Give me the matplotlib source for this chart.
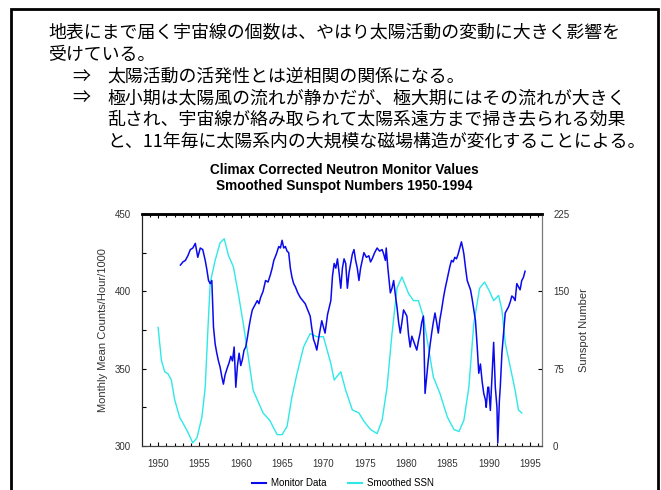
import matplotlib
matplotlib.use("Agg")
import matplotlib.pyplot as plt
from matplotlib.lines import Line2D

# slide text
text_lines = [
    "地表にまで届く宇宙線の個数は、やはり太陽活動の変動に大きく影響を",
    "受けている。",
]
arrow_lines = [
    ["太陽活動の活発性とは逆相関の関係になる。"],
    ["極小期は太陽風の流れが静かだが、極大期にはその流れが大きく",
     "乱され、宇宙線が絡み取られて太陽系遠方まで掃き去られる効果",
     "と、11年毎に太陽系内の大規模な磁場構造が変化することによる。"],
]

title = "Climax Corrected Neutron Monitor Values\nSmoothed Sunspot Numbers 1950-1994"
year_ticks = [1950, 1955, 1960, 1965, 1970, 1975, 1980, 1985, 1990, 1995]
count_ticks = [300, 350, 400, 450]
ssn_ticks = [0, 75, 150, 225]

# smoothed sunspot number (right axis)
ssn_years = [1950.0, 1950.4, 1950.8, 1951.2, 1951.6, 1952.0, 1952.6, 1953.5, 1954.2, 1954.7,
             1955.3, 1955.7, 1956.0, 1956.3, 1956.9, 1957.5, 1958.0, 1958.5, 1959.1, 1959.7,
             1960.3, 1960.9, 1961.5, 1962.7, 1963.5, 1964.4, 1965.0, 1965.6, 1966.2, 1966.8,
             1967.6, 1968.4, 1969.2, 1970.0, 1970.9, 1971.3, 1972.1, 1972.7, 1973.5, 1974.3,
             1974.9, 1975.7, 1976.5, 1977.1, 1977.7, 1978.3, 1978.9, 1979.5, 1980.3, 1980.9,
             1981.5, 1982.1, 1982.7, 1983.3, 1984.1, 1985.0, 1985.8, 1986.4, 1987.0, 1987.6,
             1988.2, 1988.9, 1989.5, 1990.1, 1990.6, 1991.2, 1991.6, 1992.0, 1992.6, 1993.2,
             1993.6, 1994.0]
ssn_values = [115, 83, 72, 70, 64, 45, 28, 15, 3, 8,
              28, 57, 109, 158, 180, 197, 201, 185, 174, 148,
              119, 87, 54, 32, 25, 11, 11, 19, 48, 70,
              96, 109, 106, 106, 80, 64, 72, 54, 35, 32,
              24, 16, 12, 25, 57, 109, 153, 164, 148, 141,
              141, 125, 96, 67, 51, 28, 16, 14, 25, 57,
              119, 153, 159, 150, 141, 146, 132, 100, 77, 54,
              35, 32]

# monthly neutron monitor counts (left axis)
monitor_years = [1952.7, 1953.0, 1953.3, 1953.6, 1953.9, 1954.2, 1954.5, 1954.8, 1955.1, 1955.4,
                 1955.7, 1955.9, 1956.1, 1956.3, 1956.5, 1956.7, 1956.9, 1957.1, 1957.3, 1957.5,
                 1957.7, 1957.9, 1958.1, 1958.4, 1958.6, 1958.8, 1959.0, 1959.2, 1959.4, 1959.6,
                 1959.8, 1960.0, 1960.2, 1960.4, 1960.6, 1960.8, 1961.0, 1961.2, 1961.4, 1961.7,
                 1962.0, 1962.2, 1962.4, 1962.7, 1963.0, 1963.3, 1963.6, 1963.8, 1964.0, 1964.3,
                 1964.6, 1964.8, 1965.0, 1965.2, 1965.4, 1965.6, 1965.8, 1966.0, 1966.2, 1966.4,
                 1966.6, 1966.9, 1967.2, 1967.5, 1967.8, 1968.1, 1968.4, 1968.6, 1968.8, 1969.0,
                 1969.2, 1969.5, 1969.8, 1970.0, 1970.2, 1970.5, 1970.9, 1971.1, 1971.3, 1971.5,
                 1971.7, 1971.9, 1972.1, 1972.3, 1972.5, 1972.7, 1972.9, 1973.1, 1973.3, 1973.5,
                 1973.7, 1973.9, 1974.1, 1974.3, 1974.5, 1974.7, 1974.9, 1975.2, 1975.5, 1975.7,
                 1975.9, 1976.2, 1976.5, 1976.8, 1977.1, 1977.3, 1977.5, 1977.6, 1977.8, 1978.1,
                 1978.3, 1978.5, 1978.7, 1978.9, 1979.1, 1979.3, 1979.5, 1979.7, 1979.9, 1980.1,
                 1980.3, 1980.5, 1980.7, 1980.9, 1981.1, 1981.3, 1981.5, 1981.7, 1981.9, 1982.1,
                 1982.3, 1982.5, 1982.7, 1982.9, 1983.1, 1983.3, 1983.5, 1983.7, 1983.9, 1984.1,
                 1984.3, 1984.5, 1984.7, 1984.9, 1985.1, 1985.3, 1985.5, 1985.7, 1985.9, 1986.1,
                 1986.3, 1986.5, 1986.7, 1986.9, 1987.0, 1987.2, 1987.4, 1987.6, 1987.8, 1988.0,
                 1988.2, 1988.4, 1988.6, 1988.8, 1989.0, 1989.2, 1989.4, 1989.6, 1989.7, 1989.9,
                 1990.0, 1990.2, 1990.4, 1990.6, 1990.8, 1991.0, 1991.1, 1991.3, 1991.4, 1991.6,
                 1991.8, 1992.0, 1992.2, 1992.4, 1992.6, 1992.8, 1993.0, 1993.2, 1993.4, 1993.6,
                 1993.8, 1994.0, 1994.2, 1994.4]
monitor_values = [417, 419, 420, 423, 427, 428, 431, 422, 428, 427,
                  420, 414, 407, 405, 407, 377, 366, 360, 355, 351,
                  345, 340, 346, 351, 354, 358, 355, 364, 338, 352,
                  360, 352, 356, 362, 364, 370, 377, 383, 388, 391,
                  394, 392, 396, 400, 407, 406, 411, 415, 420, 424,
                  429, 428, 433, 428, 429, 426, 425, 415, 409, 405,
                  403, 399, 396, 394, 392, 388, 384, 376, 369, 366,
                  362, 372, 381, 377, 373, 385, 394, 410, 418, 415,
                  421, 412, 402, 415, 421, 418, 402, 412, 418, 424,
                  427, 420, 415, 407, 415, 420, 425, 422, 423, 419,
                  421, 425, 428, 426, 427, 424, 420, 428, 415, 399,
                  402, 407, 398, 390, 380, 373, 380, 388, 386, 384,
                  372, 364, 371, 368, 365, 362, 368, 373, 380, 384,
                  334, 345, 356, 365, 373, 380, 386, 380, 373, 382,
                  388, 395, 401, 406, 411, 416, 420, 419, 422, 421,
                  424, 428, 432, 427, 424, 415, 407, 404, 401, 395,
                  388, 381, 365, 347, 353, 342, 334, 330, 325, 338,
                  338, 323, 345, 367, 338, 325, 302, 330, 338, 360,
                  373, 386, 388, 390, 393, 397, 396, 394, 405, 403,
                  401, 407, 409, 413]

W, H = 661, 490
fig = plt.figure(figsize=(W / 100, H / 100), dpi=100)

# slide frame (open at the bottom)
fig.add_artist(plt.Rectangle((11 / W, -0.05), (658 - 11) / W, 1.05 - 9 / H,
                             transform=fig.transFigure, fill=False, lw=2, ec="black"))

jp = ["Noto Sans CJK JP", "DejaVu Sans"]
fs = 12.9
fig.text(48 / W, 1 - 33 / H, text_lines[0], family=jp, fontsize=fs, va="center")
fig.text(48 / W, 1 - 55 / H, text_lines[1], family=jp, fontsize=fs, va="center")
y = 77
for block in arrow_lines:
    fig.text(72 / W, 1 - y / H, "⇒", family=jp, fontsize=fs, va="center")
    for line in block:
        fig.text(107 / W, 1 - y / H, line, family=jp, fontsize=fs, va="center")
        y += 21.5

fig.text(344 / W, 1 - 178 / H, title, family="Liberation Sans", fontweight="bold",
         fontsize=9.8, ha="center", va="center", linespacing=1.15)

ax = fig.add_axes([142 / W, 1 - 446 / H, 400 / W, 232 / H])
ax.plot(monitor_years, monitor_values, color="#0a0aee", lw=1.1, label="Monitor Data")
ax.set_xlim(1948.05, 1996.45)
ax.set_ylim(300, 450)

ax2 = ax.twinx()
ax2.plot(ssn_years, ssn_values, color="#2ee8e8", lw=1.0, label="Smoothed SSN")
ax2.set_ylim(0, 225)
ax.set_zorder(ax2.get_zorder() + 1)
ax.patch.set_visible(False)
ax2.set_facecolor("#cbcbcb")

lab = dict(family="Liberation Sans", fontsize=7, color="#333333")
ax.set_xticks(year_ticks)
ax.set_xticklabels([str(t) for t in year_ticks], **lab)
ax.set_xticks(range(1949, 1997), minor=True)
ax.set_yticks(count_ticks)
ax.set_yticklabels([str(t) for t in count_ticks], **lab)
ax.set_yticks(range(300, 451, 25), minor=True)
ax.tick_params(axis="x", which="both", direction="in", top=True, bottom=True,
               length=3, width=0.8, pad=9)
ax.tick_params(axis="x", which="minor", length=2)
ax.tick_params(axis="y", which="both", direction="in", length=3, width=0.8, pad=8)
ax2.set_yticks(ssn_ticks)
ax2.set_yticklabels([str(t) for t in ssn_ticks], **lab)
ax2.tick_params(axis="y", direction="in", length=3, width=0.8, pad=8)

ax.set_ylabel("Monthly Mean Counts/Hour/1000", family="Liberation Sans",
              fontsize=8, color="#333333", labelpad=5)
ax2.set_ylabel("Sunspot Number", family="Liberation Sans", fontsize=8,
               color="#333333", labelpad=7)

for a in (ax, ax2):
    a.spines["top"].set_linewidth(1.8)
    a.spines["top"].set_color("black")
    a.spines["left"].set_color("#222222")
    a.spines["right"].set_color("#777777")
    a.spines["bottom"].set_color("#444444")

handles = [Line2D([], [], color="#0a0aee", lw=1.5),
           Line2D([], [], color="#2ee8e8", lw=1.5)]
fig.legend(handles, ["Monitor Data", "Smoothed SSN"], loc="center",
           bbox_to_anchor=(343 / W, 1 - 483 / H), ncol=2, frameon=False,
           prop={"family": "Liberation Sans", "size": 7}, handlelength=1.4,
           columnspacing=2.3, handletextpad=0.5)

fig.savefig("out.png", dpi=100)
